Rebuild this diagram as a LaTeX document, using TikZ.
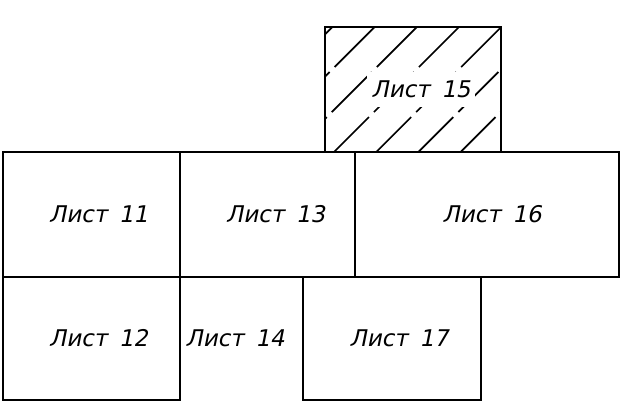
\documentclass[tikz,border=0pt]{standalone}
\usepackage{fontspec}
\newfontfamily\gostfont[FakeSlant=0.2]{DejaVu Sans}
\usetikzlibrary{calc, positioning}
\tikzset{
	sheet/.style={draw, line width=2.2pt, inner sep=0pt, outer sep=0pt, anchor=north west},
	sheetlabel/.style={font={\gostfont\fontsize{23}{23}\selectfont}, inner sep=1pt},
	hatch/.style={line width=1.7pt, dash pattern=on 56.6pt off 7.1pt}
}

\begin{document}
\begin{tikzpicture}[x=1pt, y=-1pt]
		\useasboundingbox (0,0) rectangle (637,403);
		% top row
		\node[sheet, minimum width=177pt, minimum height=125pt] (s11) at (3,152) {};
		\node[sheet, minimum width=175pt, minimum height=125pt] (s13) at (180,152) {};
		\node[sheet, minimum width=264pt, minimum height=125pt] (s16) at (355,152) {};
		% hatched sheet on top
		\node[sheet, minimum width=176pt, minimum height=125pt] (s15) at (325,27) {};
		\begin{scope}
			\clip (s15.north west) rectangle (s15.south east);
			\foreach \k in {0,...,7}
				\draw[hatch] ($(s15.north west)+({7.4+42.2*\k},0)$) -- ++(-135,135);
		\end{scope}
		% bottom row
		\node[sheet, minimum width=177pt, minimum height=123pt] (s12) at (3,277) {};
		\node[sheet, minimum width=178pt, minimum height=123pt] (s17) at (303,277) {};
		% labels
		\node[sheetlabel] (l11) at ([xshift=7pt]s11.center) {Лист\enspace11};
		\node[sheetlabel] (l13) at ([xshift=8pt]s13.center) {Лист\enspace13};
		\node[sheetlabel] (l16) at ([xshift=5pt]s16.center) {Лист\enspace16};
		\node[sheetlabel, fill=white, inner xsep=4pt, inner ysep=9pt] (l15) at ([xshift=8pt]s15.center) {Лист\enspace15};
		\node[sheetlabel] (l12) at ([xshift=7pt]s12.center) {Лист\enspace12};
		\node[sheetlabel] (l14) at ([xshift=55pt]s12.east) {Лист\enspace14};
		\node[sheetlabel] (l17) at ([xshift=7pt]s17.center) {Лист\enspace17};
\end{tikzpicture}
\end{document}
